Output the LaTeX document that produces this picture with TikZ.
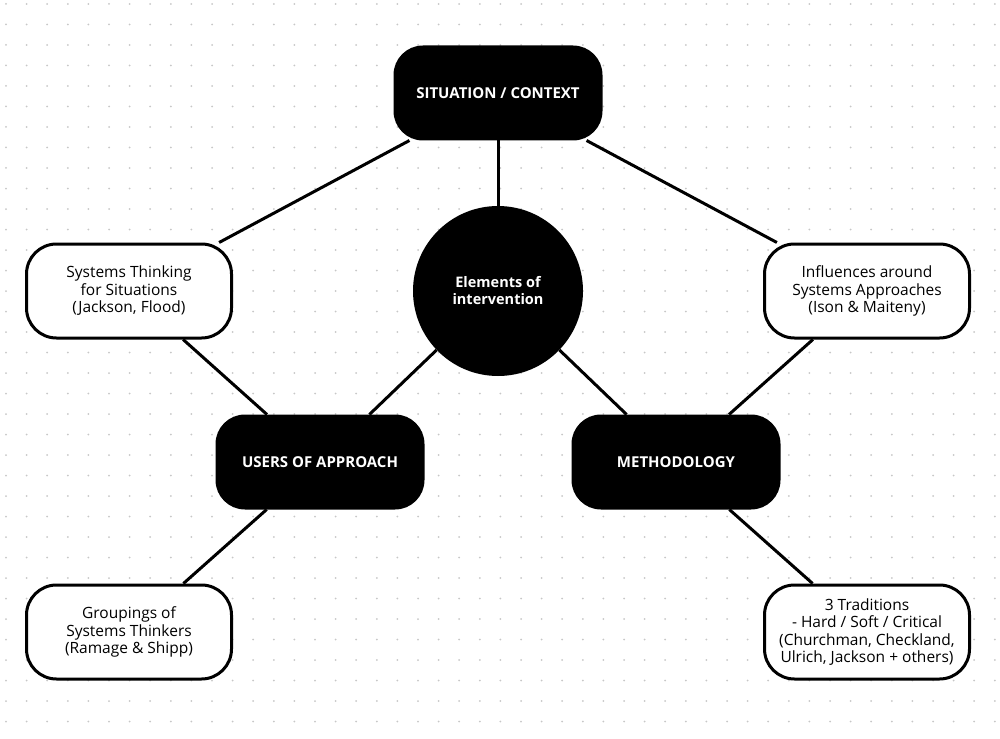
\documentclass[tikz,border=0pt]{standalone}
\usepackage{fontspec}
\setmainfont{Open Sans}

\begin{document}
\begin{tikzpicture}[x=1pt,y=-1pt,
    darkbox/.style={rectangle, rounded corners=28pt, fill=black, draw=black, line width=3pt,
      text=white, font=\bfseries\fontsize{15}{17}\selectfont, minimum width=206pt, minimum height=92pt, inner sep=0pt},
    lightbox/.style={rectangle, rounded corners=30pt, fill=white, draw=black, line width=3pt,
      align=center, font=\fontsize{15.5}{17.5}\selectfont, minimum width=205pt, minimum height=94pt, inner sep=0pt},
    hub/.style={circle, fill=black, text=white, align=center,
      font=\bfseries\fontsize{14.5}{17}\selectfont, minimum size=170pt, inner sep=0pt},
    link/.style={line width=3pt}]
    % background and dot grid
    \fill[white] (0,0) rectangle (1000,738);
    \useasboundingbox (0,0) rectangle (1000,738);
    \foreach \i in {0,...,48}
      \foreach \j in {0,...,35}
        \fill[black!22] (6+20.6*\i, 4+20.5*\j) circle (1pt);

    % nodes
    \node[darkbox] (context) at (498,93) {SITUATION / CONTEXT};
    \node[hub] (elements) at (498,291) {Elements of\\intervention};
    \node[lightbox] (jackson) at (129,291) {Systems Thinking\\for Situations\\(Jackson, Flood)};
    \node[lightbox] (ison) at (867,291) {Influences around\\Systems Approaches\\(Ison \& Maiteny)};
    \node[darkbox] (users) at (320,462) {USERS OF APPROACH};
    \node[darkbox] (method) at (676,462) {METHODOLOGY};
    \node[lightbox] (groups) at (129,632) {Groupings of\\Systems Thinkers\\(Ramage \& Shipp)};
    \node[lightbox] (traditions) at (867,632) {3 Traditions\\- Hard / Soft / Critical\\(Churchman, Checkland,\\Ulrich, Jackson + others)};

    % connectors
    \draw[link] (context) -- (jackson);
    \draw[link] (context) -- (elements);
    \draw[link] (context) -- (ison);
    \draw[link] (jackson) -- (users);
    \draw[link] (elements) -- (users);
    \draw[link] (elements) -- (method);
    \draw[link] (ison) -- (method);
    \draw[link] (users) -- (groups);
    \draw[link] (method) -- (traditions);
\end{tikzpicture}
\end{document}
